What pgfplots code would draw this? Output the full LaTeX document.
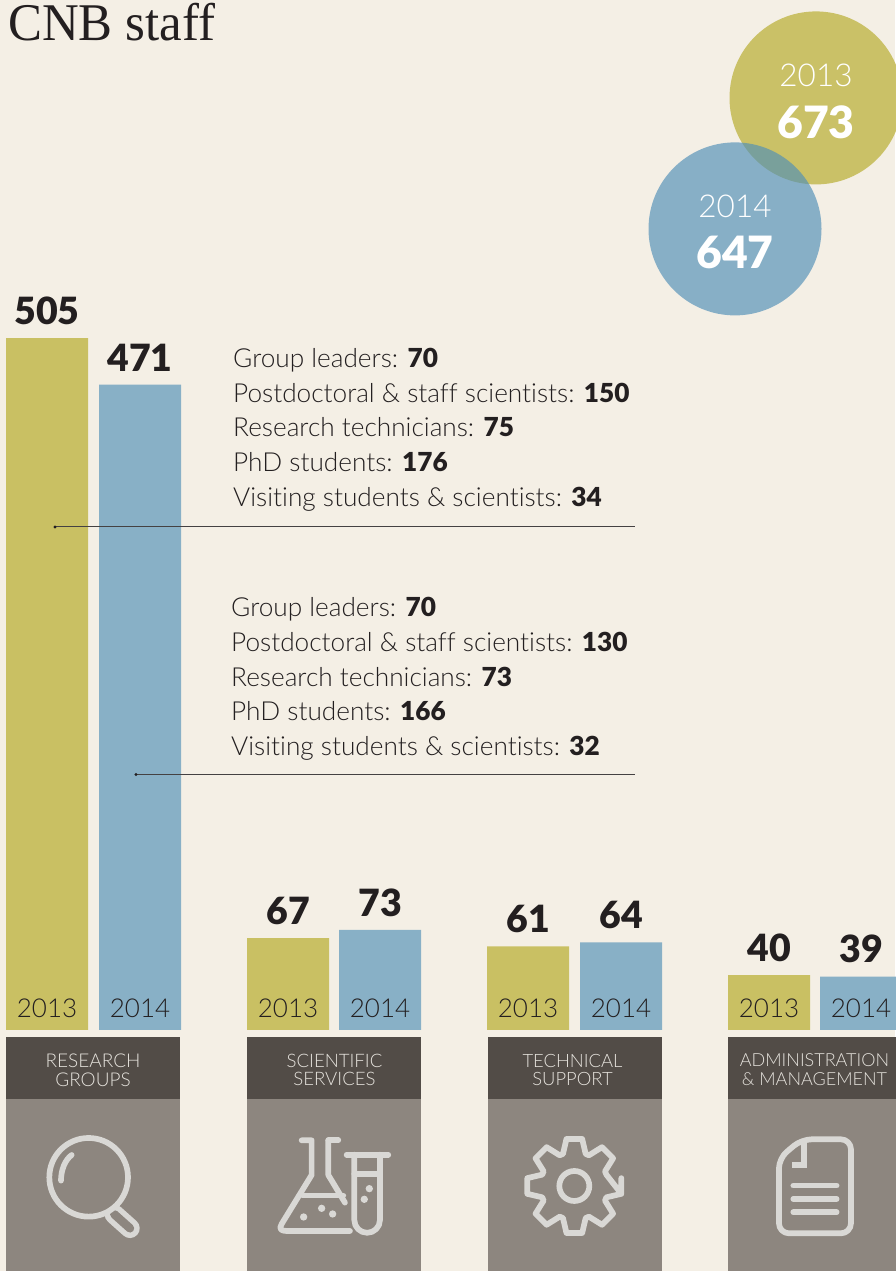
\documentclass[border=0pt]{standalone}
\usepackage{pgfplots}
\pgfplotsset{compat=1.18}
\usepackage{pgfplotstable}
\usepackage{fontspec}
\setmainfont{Lato}[Ligatures=NoCommon]
\newfontfamily\lightf{Lato Light}[Ligatures=NoCommon]
\newfontfamily\heavyf{Lato Black}[Ligatures=NoCommon]
\newfontfamily\titlef{Liberation Serif}
\newcommand{\fsz}[1]{\fontsize{#1}{#1}\selectfont}
\definecolor{paper}{HTML}{F4EFE5}
\definecolor{olive}{HTML}{C9C063}
\definecolor{steel}{HTML}{88B0C6}
\definecolor{steelglass}{RGB}{80,143,183}
\definecolor{ink}{HTML}{231F20}
\definecolor{panelA}{HTML}{524C47}
\definecolor{panelB}{HTML}{8D867F}
\definecolor{icon}{HTML}{D9D8D5}
\definecolor{labeltext}{HTML}{E6E3DD}
\pgfplotstableread{
x y
47 505
288 67
528 61
769 40
}\stafftwentythirteen
\pgfplotstableread{
x y
140 471
380 73
621 64
861 39
}\stafftwentyfourteen
\begin{document}
\begin{tikzpicture}
\useasboundingbox (0,0) rectangle (895pt,1271pt);
\fill[paper] (0,0) rectangle (895pt,1271pt);
% panels under the bars
\begin{scope}[shift={(0pt,1271pt)},x=1pt,y=-1pt]
\foreach \l in {6,247,488,728}{
  \fill[panelA] (\l,1037) rectangle (\l+174,1099);
  \fill[panelB] (\l,1099) rectangle (\l+174,1271);
}
\end{scope}
\begin{axis}[
  at={(0pt,0pt)},anchor=south west,
  width=895pt,height=1271pt,scale only axis,
  xmin=0,xmax=895,ymin=-175.9,ymax=751.8,
  hide axis,clip=false,
  /pgf/number format/assume math mode=true,
  every node near coord/.append style={font=\heavyf\fsz{37.5},text=ink,anchor=south,yshift=10pt},
]
% totals
\addplot[only marks,mark=*,mark size=86.5pt,mark options={color=olive,draw opacity=0,fill opacity=0.97}] coordinates {(816,680.3)};
\addplot[only marks,mark=*,mark size=86.5pt,mark options={color=steelglass,draw opacity=0,fill opacity=0.66}] coordinates {(735,584.7)};
% staff by group
\addplot[ybar,bar width=82pt,bar shift=0pt,draw=none,fill=olive,
  nodes near coords,point meta=y]
  table[x=x,y=y]{\stafftwentythirteen};
\addplot[ybar,bar width=82pt,bar shift=0pt,draw=none,fill=steel,
  nodes near coords,point meta=y]
  table[x=x,y=y]{\stafftwentyfourteen};
\end{axis}
\begin{scope}[shift={(0pt,1271pt)},x=1pt,y=-1pt]
% title
\node[anchor=base west,inner sep=0,text=ink] at (8,41) {\titlef\fsz{53}\scalebox{0.96}[1]{CNB staff}};
% circle text
\node[text=white] at (816,75) {\lightf\fsz{31.5}2013};
\node[text=white] at (816,122) {\heavyf\fsz{44.5}673};
\node[text=white] at (735,206) {\lightf\fsz{31.5}2014};
\node[text=white] at (735,252) {\heavyf\fsz{44.5}647};
% breakdowns
\foreach \y/\t/\v in {368/Group leaders/70,403/Postdoctoral \& staff scientists/150,437/Research technicians/75,472/PhD students/176,507/Visiting students \& scientists/34}{
  \node[anchor=base west,inner sep=0,text=ink] at (233,\y) {\lightf\fsz{26.2}\t: {\heavyf\v}};
}
\foreach \y/\t/\v in {617/Group leaders/70,652/Postdoctoral \& staff scientists/130,687/Research technicians/73,721/PhD students/166,756/Visiting students \& scientists/32}{
  \node[anchor=base west,inner sep=0,text=ink] at (231,\y) {\lightf\fsz{26.2}\t: {\heavyf\v}};
}
\draw[ink!85,line width=1pt] (55,527)--(635,527);
\fill[ink] (55,527) circle (1.6);
\draw[ink!85,line width=1pt] (136,774.5)--(635,774.5);
\fill[ink] (136,774.5) circle (1.6);
% years in bars
\foreach \x/\t in {47/2013,140/2014,288/2013,380/2014,528/2013,621/2014,769/2013,861/2014}{
  \node[text=ink] at (\x,1008) {\lightf\fsz{26}\t};
}
% panel labels
\node[text=labeltext,align=center,font=\lightf\fsz{19}] at (93,1070) {RESEARCH\\[-0.3pt]GROUPS};
\node[text=labeltext,align=center,font=\lightf\fsz{18.6}] at (334.5,1070) {SCIENTIFIC\\[0.1pt]SERVICES};
\node[text=labeltext,align=center,font=\lightf\fsz{18.4}] at (572.5,1070) {TECHNICAL\\[0.4pt]SUPPORT};
\node[text=labeltext,align=center,font=\lightf\fsz{18}] at (814.5,1070) {ADMINISTRATION\\[0.8pt]\& MANAGEMENT};
\end{scope}
% icons, in zoom coordinates
\begin{scope}[shift={(0pt,251pt)},x=0.3333pt,y=-0.3333pt,draw=icon,line width=5.7pt,line cap=round,line join=round]
\draw[line width=19.5pt] (343,583)--(390,625);
\draw[panelB,line width=8.5pt] (343,583)--(390,625);
\fill[panelB] (266,472) circle (118);
\draw (266,472) circle (118);
\draw (183,482) .. controls (183,450) and (195,420) .. (215,405);
% flask
\draw (905,361)--(935,361)--(935,465)--(845,612) .. controls (835,628) and (845,633) .. (860,633)--(1050,633);
\draw (985,361)--(1015,361);
\draw (985,361)--(985,465)--(1035,548);
\draw (908,527)--(1030,527);
\fill[icon] (911,591) circle (11) (965,565) circle (11) (998,582) circle (11);
% test tube
\draw (1040,404)--(1165,404);
\draw (1063,404)--(1063,600) arc[start angle=180,end angle=0,radius=38.5] -- (1140,404);
\draw (1063,462)--(1140,462);
\fill[icon] (1108,506) circle (11) (1093,538) circle (11);
\end{scope}
\begin{scope}[shift={(450pt,251pt)},x=0.3333pt,y=-0.3333pt,draw=icon,line width=5.7pt,line cap=round,line join=round]
% gear
\draw (373,498) circle (45);
\draw[shift={(373,498)}] (9.5:143)
  \foreach \a in {0,45,...,315}{ -- (\a-9.5:143) -- (\a+9.5:143) -- (\a+19.5:102) -- (\a+25.5:102) } -- cycle;
% document
\draw[rounded corners=10pt] (987,415)--(1055,358)--(1203,358)--(1203,640)--(987,640)--cycle;
\draw[line cap=butt,line join=miter] (1062,365)--(1062,435)--(1025,435);
\draw (1030,497)--(1160,497);
\draw (1030,537)--(1160,537);
\draw (1030,577)--(1160,577);
\end{scope}
\end{tikzpicture}
\end{document}
